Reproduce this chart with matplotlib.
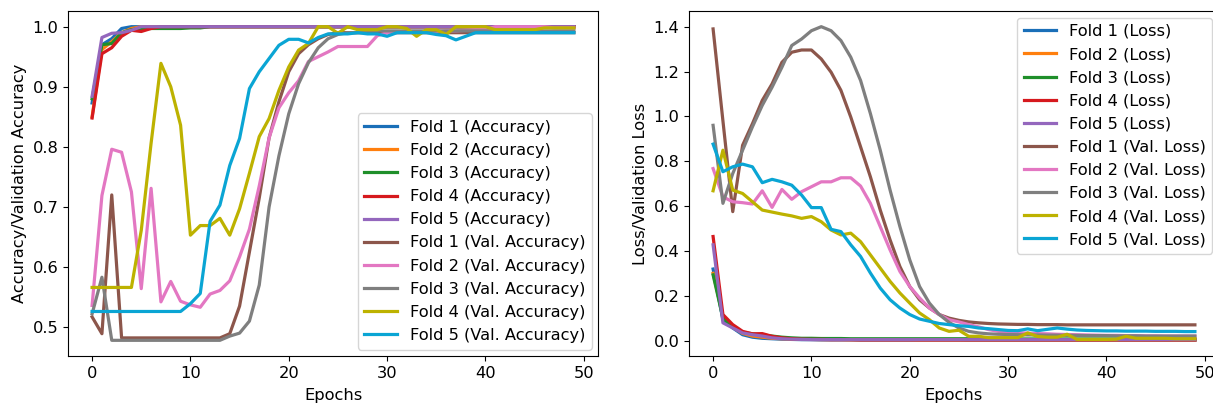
import matplotlib
matplotlib.use("Agg")
import matplotlib.pyplot as plt

epochs = list(range(50))

# ---- Accuracy (training) ----
acc_f1 = [0.873, 0.970, 0.980, 0.997, 1.0, 1.0, 1.0, 1.0, 1.0, 1.0,
          1.0, 1.0, 1.0, 1.0, 1.0, 1.0, 1.0, 1.0, 1.0, 1.0,
          1.0, 1.0, 1.0, 1.0, 1.0, 1.0, 1.0, 1.0, 1.0, 1.0,
          1.0, 1.0, 1.0, 1.0, 1.0, 1.0, 1.0, 1.0, 1.0, 1.0,
          1.0, 1.0, 1.0, 1.0, 1.0, 1.0, 1.0, 1.0, 1.0, 1.0]
acc_f2 = [0.850, 0.962, 0.975, 0.990, 0.997, 1.0, 1.0, 1.0, 1.0, 1.0,
          1.0, 1.0, 1.0, 1.0, 1.0, 1.0, 1.0, 1.0, 1.0, 1.0,
          1.0, 1.0, 1.0, 1.0, 1.0, 1.0, 1.0, 1.0, 1.0, 1.0,
          1.0, 1.0, 1.0, 1.0, 1.0, 1.0, 1.0, 1.0, 1.0, 1.0,
          1.0, 1.0, 1.0, 1.0, 1.0, 1.0, 1.0, 1.0, 1.0, 1.0]
acc_f3 = [0.880, 0.970, 0.972, 0.990, 0.995, 0.997, 0.997, 0.997, 0.997, 0.997,
          0.998, 0.998, 1.0, 1.0, 1.0, 1.0, 1.0, 1.0, 1.0, 1.0,
          1.0, 1.0, 1.0, 1.0, 1.0, 1.0, 1.0, 1.0, 1.0, 1.0,
          1.0, 1.0, 1.0, 1.0, 1.0, 1.0, 1.0, 1.0, 1.0, 1.0,
          1.0, 1.0, 1.0, 1.0, 1.0, 1.0, 1.0, 1.0, 1.0, 1.0]
acc_f4 = [0.848, 0.955, 0.965, 0.984, 0.994, 0.992, 0.997, 1.0, 1.0, 1.0,
          1.0, 1.0, 1.0, 1.0, 1.0, 1.0, 1.0, 1.0, 1.0, 1.0,
          1.0, 1.0, 1.0, 1.0, 1.0, 1.0, 1.0, 1.0, 1.0, 1.0,
          1.0, 1.0, 1.0, 1.0, 1.0, 1.0, 1.0, 1.0, 1.0, 1.0,
          1.0, 1.0, 1.0, 1.0, 1.0, 1.0, 1.0, 1.0, 1.0, 1.0]
acc_f5 = [0.884, 0.982, 0.989, 0.990, 0.994, 1.0, 1.0, 1.0, 1.0, 1.0,
          1.0, 1.0, 1.0, 1.0, 1.0, 1.0, 1.0, 1.0, 1.0, 1.0,
          1.0, 1.0, 1.0, 1.0, 1.0, 1.0, 1.0, 1.0, 1.0, 1.0,
          1.0, 1.0, 1.0, 1.0, 1.0, 1.0, 1.0, 1.0, 1.0, 1.0,
          1.0, 1.0, 1.0, 1.0, 1.0, 1.0, 1.0, 1.0, 1.0, 1.0]

# ---- Accuracy (validation) ----
vacc_f1 = [0.517, 0.489, 0.720, 0.482, 0.482, 0.482, 0.482, 0.482, 0.482, 0.482,
           0.482, 0.482, 0.482, 0.482, 0.489, 0.535, 0.625, 0.715, 0.815, 0.875,
           0.925, 0.955, 0.970, 0.980, 0.987, 0.990, 0.990, 0.990, 0.990, 0.990,
           0.990, 0.990, 0.990, 0.990, 0.990, 0.990, 0.990, 0.990, 0.990, 0.990,
           0.990, 0.990, 0.990, 0.990, 0.990, 0.990, 0.990, 0.990, 0.990, 0.990]
vacc_f2 = [0.536, 0.719, 0.796, 0.791, 0.725, 0.564, 0.731, 0.542, 0.576, 0.543,
           0.537, 0.533, 0.555, 0.561, 0.577, 0.617, 0.663, 0.735, 0.815, 0.865,
           0.890, 0.910, 0.942, 0.950, 0.958, 0.967, 0.967, 0.967, 0.967, 0.985,
           0.990, 0.990, 0.992, 0.992, 0.992, 0.992, 0.993, 0.993, 0.994, 0.995,
           0.995, 1.0, 1.0, 1.0, 1.0, 1.0, 1.0, 0.998, 0.998, 0.998]
vacc_f3 = [0.522, 0.583, 0.478, 0.478, 0.478, 0.478, 0.478, 0.478, 0.478, 0.478,
           0.478, 0.478, 0.478, 0.478, 0.485, 0.490, 0.510, 0.570, 0.700, 0.785,
           0.855, 0.905, 0.940, 0.965, 0.980, 0.987, 0.990, 0.990, 0.993, 0.993,
           0.993, 0.993, 0.993, 0.993, 0.993, 0.993, 0.993, 0.993, 0.993, 0.993,
           0.993, 0.993, 0.993, 0.993, 0.993, 0.993, 0.993, 0.993, 0.993, 0.993]
vacc_f4 = [0.566, 0.566, 0.566, 0.566, 0.566, 0.661, 0.806, 0.939, 0.900, 0.836,
           0.653, 0.669, 0.669, 0.681, 0.653, 0.697, 0.756, 0.817, 0.847, 0.894,
           0.933, 0.961, 0.972, 1.0, 1.0, 0.989, 1.0, 0.995, 0.995, 0.995,
           1.0, 1.0, 0.997, 0.984, 0.995, 0.995, 0.987, 1.0, 1.0, 1.0,
           1.0, 0.995, 0.995, 0.995, 0.995, 0.995, 0.998, 0.998, 0.998, 0.998]
vacc_f5 = [0.526, 0.526, 0.526, 0.526, 0.526, 0.526, 0.526, 0.526, 0.526, 0.526,
           0.539, 0.556, 0.676, 0.703, 0.769, 0.814, 0.897, 0.925, 0.947, 0.969,
           0.979, 0.979, 0.973, 0.982, 0.988, 0.988, 0.988, 0.990, 0.988, 0.988,
           0.984, 0.990, 0.990, 0.990, 0.990, 0.987, 0.985, 0.978, 0.984, 0.990,
           0.990, 0.990, 0.990, 0.990, 0.990, 0.990, 0.990, 0.990, 0.990, 0.990]

# ---- Loss (training) ----
loss_f1 = [0.319, 0.093, 0.056, 0.026, 0.015, 0.010, 0.008, 0.006, 0.005, 0.004,
           0.004, 0.003, 0.003, 0.003, 0.003, 0.002, 0.002, 0.002, 0.002, 0.002,
           0.002, 0.002, 0.002, 0.002, 0.002, 0.002, 0.001, 0.001, 0.001, 0.001,
           0.001, 0.001, 0.001, 0.001, 0.001, 0.001, 0.001, 0.001, 0.001, 0.001,
           0.001, 0.001, 0.001, 0.001, 0.001, 0.001, 0.001, 0.001, 0.001, 0.001]
loss_f2 = [0.300, 0.110, 0.060, 0.032, 0.020, 0.015, 0.010, 0.008, 0.006, 0.005,
           0.005, 0.004, 0.004, 0.004, 0.003, 0.003, 0.003, 0.003, 0.003, 0.003,
           0.003, 0.002, 0.002, 0.002, 0.002, 0.002, 0.002, 0.002, 0.002, 0.002,
           0.002, 0.002, 0.002, 0.002, 0.002, 0.002, 0.002, 0.002, 0.002, 0.002,
           0.002, 0.002, 0.002, 0.002, 0.002, 0.002, 0.002, 0.002, 0.002, 0.002]
loss_f3 = [0.293, 0.100, 0.063, 0.037, 0.030, 0.025, 0.020, 0.015, 0.012, 0.010,
           0.010, 0.009, 0.009, 0.009, 0.008, 0.008, 0.008, 0.008, 0.008, 0.008,
           0.008, 0.008, 0.008, 0.008, 0.008, 0.008, 0.008, 0.008, 0.008, 0.008,
           0.007, 0.007, 0.007, 0.007, 0.007, 0.007, 0.007, 0.007, 0.007, 0.007,
           0.007, 0.007, 0.007, 0.007, 0.007, 0.007, 0.007, 0.007, 0.007, 0.007]
loss_f4 = [0.464, 0.116, 0.071, 0.041, 0.030, 0.031, 0.019, 0.012, 0.008, 0.006,
           0.005, 0.005, 0.004, 0.004, 0.004, 0.003, 0.003, 0.003, 0.003, 0.003,
           0.003, 0.003, 0.003, 0.003, 0.003, 0.003, 0.003, 0.003, 0.003, 0.003,
           0.003, 0.003, 0.003, 0.003, 0.003, 0.003, 0.003, 0.003, 0.003, 0.003,
           0.003, 0.003, 0.003, 0.003, 0.003, 0.003, 0.003, 0.003, 0.003, 0.003]
loss_f5 = [0.427, 0.079, 0.056, 0.034, 0.026, 0.020, 0.012, 0.008, 0.006, 0.005,
           0.004, 0.004, 0.004, 0.004, 0.004, 0.004, 0.004, 0.004, 0.004, 0.004,
           0.004, 0.004, 0.004, 0.004, 0.004, 0.004, 0.004, 0.004, 0.004, 0.004,
           0.004, 0.004, 0.004, 0.004, 0.004, 0.004, 0.004, 0.004, 0.004, 0.004,
           0.004, 0.004, 0.004, 0.004, 0.004, 0.004, 0.004, 0.004, 0.004, 0.004]

# ---- Loss (validation) ----
vloss_f1 = [1.390, 0.980, 0.575, 0.871, 0.967, 1.071, 1.145, 1.241, 1.286, 1.296,
            1.296, 1.256, 1.197, 1.116, 0.997, 0.864, 0.730, 0.582, 0.449, 0.330,
            0.241, 0.182, 0.145, 0.116, 0.100, 0.090, 0.083, 0.079, 0.076, 0.074,
            0.073, 0.072, 0.072, 0.071, 0.071, 0.071, 0.070, 0.070, 0.070, 0.070,
            0.070, 0.070, 0.070, 0.070, 0.070, 0.070, 0.070, 0.070, 0.070, 0.070]
vloss_f2 = [0.767, 0.641, 0.619, 0.615, 0.609, 0.668, 0.594, 0.674, 0.630, 0.664,
            0.686, 0.708, 0.708, 0.726, 0.726, 0.689, 0.612, 0.508, 0.404, 0.308,
            0.241, 0.190, 0.145, 0.116, 0.093, 0.083, 0.071, 0.061, 0.049, 0.041,
            0.038, 0.035, 0.033, 0.031, 0.030, 0.028, 0.027, 0.026, 0.025, 0.024,
            0.023, 0.023, 0.022, 0.022, 0.021, 0.021, 0.020, 0.020, 0.020, 0.020]
vloss_f3 = [0.960, 0.612, 0.745, 0.849, 0.953, 1.049, 1.130, 1.219, 1.316, 1.345,
            1.382, 1.400, 1.382, 1.338, 1.264, 1.160, 1.012, 0.849, 0.671, 0.508,
            0.360, 0.241, 0.167, 0.116, 0.081, 0.056, 0.041, 0.034, 0.030, 0.028,
            0.027, 0.026, 0.025, 0.025, 0.024, 0.024, 0.023, 0.023, 0.022, 0.022,
            0.022, 0.021, 0.021, 0.021, 0.020, 0.020, 0.020, 0.020, 0.020, 0.020]
vloss_f4 = [0.668, 0.849, 0.671, 0.656, 0.619, 0.582, 0.573, 0.564, 0.556, 0.545,
            0.553, 0.530, 0.493, 0.471, 0.479, 0.441, 0.382, 0.323, 0.264, 0.212,
            0.167, 0.123, 0.093, 0.056, 0.041, 0.046, 0.019, 0.019, 0.013, 0.013,
            0.013, 0.013, 0.034, 0.018, 0.015, 0.015, 0.028, 0.005, 0.005, 0.005,
            0.005, 0.006, 0.019, 0.010, 0.010, 0.010, 0.010, 0.008, 0.008, 0.008]
vloss_f5 = [0.876, 0.753, 0.775, 0.787, 0.775, 0.704, 0.719, 0.708, 0.693, 0.649,
            0.593, 0.593, 0.496, 0.486, 0.427, 0.375, 0.301, 0.234, 0.182, 0.145,
            0.116, 0.096, 0.086, 0.076, 0.071, 0.066, 0.063, 0.056, 0.053, 0.049,
            0.045, 0.044, 0.052, 0.044, 0.050, 0.056, 0.051, 0.047, 0.045, 0.044,
            0.043, 0.043, 0.042, 0.042, 0.042, 0.041, 0.041, 0.041, 0.040, 0.040]

fold_names = ["Fold 1", "Fold 2", "Fold 3", "Fold 4", "Fold 5"]
colors = ["#1a6fb8", "#ff7f0e", "#1f8f2a", "#d6191e", "#9467bd",
          "#8c564b", "#e377c2", "#7f7f7f", "#bdb200", "#0aa5d4"]

train_acc = [acc_f1, acc_f2, acc_f3, acc_f4, acc_f5]
val_acc = [vacc_f1, vacc_f2, vacc_f3, vacc_f4, vacc_f5]
train_loss = [loss_f1, loss_f2, loss_f3, loss_f4, loss_f5]
val_loss = [vloss_f1, vloss_f2, vloss_f3, vloss_f4, vloss_f5]

plt.rcParams["font.family"] = ["DejaVu Sans"]
plt.rcParams["font.size"] = 11.7

fig = plt.figure(figsize=(12.13, 4.08), dpi=100)
ax1 = fig.add_axes([68 / 1213, 1 - 356 / 408, 530 / 1213, 345 / 408])
ax2 = fig.add_axes([689 / 1213, 1 - 356 / 408, 530 / 1213, 345 / 408])

lw = 2.3
for i, name in enumerate(fold_names):
    ax1.plot(epochs, train_acc[i], color=colors[i], lw=lw, label=f"{name} (Accuracy)")
for i, name in enumerate(fold_names):
    ax1.plot(epochs, val_acc[i], color=colors[5 + i], lw=lw, label=f"{name} (Val. Accuracy)")
for i, name in enumerate(fold_names):
    ax2.plot(epochs, train_loss[i], color=colors[i], lw=lw, label=f"{name} (Loss)")
for i, name in enumerate(fold_names):
    ax2.plot(epochs, val_loss[i], color=colors[5 + i], lw=lw, label=f"{name} (Val. Loss)")

ax1.set_xlabel("Epochs", labelpad=5.5)
ax1.set_ylabel("Accuracy/Validation Accuracy")
ax2.set_xlabel("Epochs", labelpad=5.5)
ax2.set_ylabel("Loss/Validation Loss")
ax1.set_xticks([0, 10, 20, 30, 40, 50])
ax2.set_xticks([0, 10, 20, 30, 40, 50])
ax1.set_yticks([0.5, 0.6, 0.7, 0.8, 0.9, 1.0])
ax2.set_yticks([0.0, 0.2, 0.4, 0.6, 0.8, 1.0, 1.2, 1.4])

ax1.legend(loc="lower right", labelspacing=0.5, borderaxespad=0.4)
ax2.legend(loc="upper right", labelspacing=0.5, borderaxespad=0.4)

fig.savefig("out.png", dpi=100)
